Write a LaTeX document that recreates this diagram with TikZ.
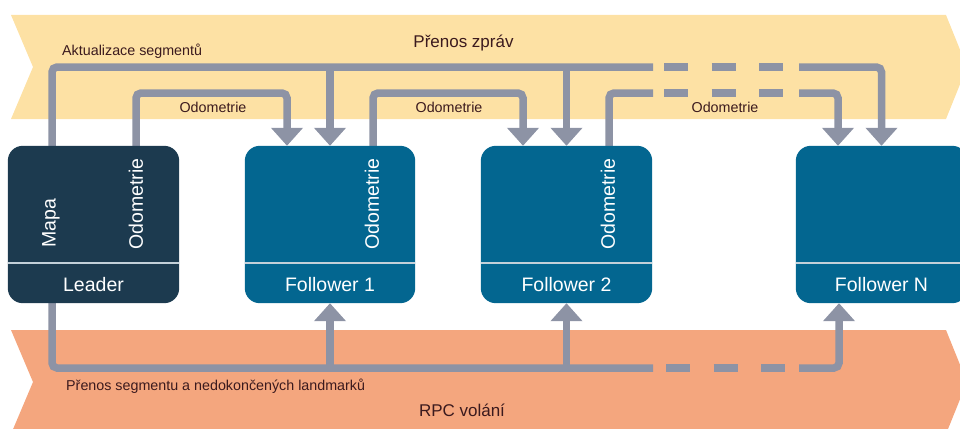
\documentclass[tikz,border=0pt]{standalone}
\usepackage{fontspec}
\setmainfont{Liberation Sans}
\usetikzlibrary{arrows.meta,calc}
\definecolor{bandY}{HTML}{FDE1A4}
\definecolor{bandO}{HTML}{F4A67E}
\definecolor{connc}{HTML}{8D93A5}
\definecolor{leadc}{HTML}{1C3A4F}
\definecolor{follc}{HTML}{036690}
\definecolor{divc}{HTML}{C3D0D9}
\definecolor{txtc}{HTML}{3B1A1E}
\begin{document}
\begin{tikzpicture}[x=1pt,y=-1pt,
 wire/.style={draw=connc,line width=7.5pt,rounded corners=5pt},
 arr/.style={wire,-{Triangle[width=31pt,length=18pt]}},
 dsh/.style={draw=connc,line width=7.5pt,dash pattern=on 24pt off 23.5pt},
 box/.style={rounded corners=15pt,minimum width=171pt,minimum height=157pt,inner sep=0pt},
 boxlab/.style={text=white,font=\fontsize{19.5}{20}\selectfont,inner sep=0pt},
 vlab/.style={boxlab,rotate=90,anchor=west},
 lab/.style={text=txtc,font=\fontsize{14.3}{15}\selectfont,inner sep=0pt},
 bigl/.style={text=txtc,font=\fontsize{17}{18}\selectfont,inner sep=0pt}]
\useasboundingbox (0,0) rectangle (960,428);
\clip (0,0) rectangle (960,428);
% bands
\fill[bandY] (11,15) -- (946,15) -- (967,67) -- (946,119) -- (11,119) -- (33,67) -- cycle;
\fill[bandO] (11,330) -- (946,330) -- (967,382) -- (946,434) -- (11,434) -- (33,382) -- cycle;
% boxes (positions)
\path (93.5,224.5) node[box] (L) {};
\path (330,224.5) node[box,minimum width=170pt] (F1) {};
\path (566.5,224.5) node[box] (F2) {};
\path (881.5,224.5) node[box] (FN) {};
% coordinates
\coordinate (Ytop) at (0,67);
\coordinate (Yodo) at (0,93);
\coordinate (Ybot) at (0,368);
\coordinate (DA) at (653,0);
\coordinate (DB) at (799,0);
\coordinate (Lsa) at ($(L.north)+(-41.5,0)$);
\coordinate (Lod) at ($(L.north)+(42.5,0)$);
\coordinate (F1in) at ($(F1.north)+(-43,0)$);
\coordinate (F1od) at ($(F1.north)+(43,0)$);
\coordinate (F2in) at ($(F2.north)+(-43.5,0)$);
\coordinate (F2od) at ($(F2.north)+(42.5,0)$);
\coordinate (FNin) at ($(FN.north)+(-43.5,0)$);
\coordinate (Lsb) at ($(L.south)+(-41.5,0)$);
\coordinate (FNup) at ($(FN.south)+(-42.5,0)$);
% top connectors
\draw[wire] (Lsa) |- (Ytop -| DA);
\draw[dsh,dash phase=36.5pt] (Ytop -| DA) -- (Ytop -| DB);
\draw[arr] (Ytop -| DB) -| (FN.north);
\draw[arr] (Ytop -| F1.north) -- (F1.north);
\draw[arr] (Ytop -| F2.north) -- (F2.north);
% odometrie connectors
\draw[arr] (Lod) |- (Yodo -| F1in) -- (F1in);
\draw[arr] (F1od) |- (Yodo -| F2in) -- (F2in);
\draw[wire] (F2od) |- (Yodo -| DA);
\draw[dsh,dash phase=36.5pt] (Yodo -| DA) -- (Yodo -| DB);
\draw[arr] (Yodo -| DB) -| (FNin);
% bottom connectors
\draw[wire] (Lsb) |- (Ybot -| DA);
\draw[dsh,dash phase=34.5pt] (Ybot -| DA) -- (Ybot -| DB);
\draw[arr] (Ybot -| DB) -| (FNup);
\draw[arr] (Ybot -| F1.south) -- (F1.south);
\draw[arr] (Ybot -| F2.south) -- (F2.south);
% box fills
\fill[leadc,rounded corners=15pt] (L.south west) rectangle (L.north east);
\fill[follc,rounded corners=15pt] (F1.south west) rectangle (F1.north east);
\fill[follc,rounded corners=15pt] (F2.south west) rectangle (F2.north east);
\fill[follc,rounded corners=15pt] (FN.south west) rectangle (FN.north east);
% dividers
\draw[divc,line width=2pt] ($(L.south west)+(0,-40)$) -- ($(L.south east)+(0,-40)$);
\draw[divc,line width=2pt] ($(F1.south west)+(0,-40)$) -- ($(F1.south east)+(0,-40)$);
\draw[divc,line width=2pt] ($(F2.south west)+(0,-40)$) -- ($(F2.south east)+(0,-40)$);
\draw[divc,line width=2pt] ($(FN.south west)+(0,-40)$) -- ($(FN.south east)+(0,-40)$);
% box labels
\node[boxlab,anchor=base] (tL) at ($(L.south)+(0,-11.5)$) {Leader};
\node[boxlab,anchor=base] (tF1) at ($(F1.south)+(0,-11.5)$) {Follower 1};
\node[boxlab,anchor=base] (tF2) at ($(F2.south)+(0,-11.5)$) {Follower 2};
\node[boxlab,anchor=base] (tFN) at ($(FN.south)+(0,-11.5)$) {Follower N};
\node[vlab] (vLm) at ($(L.north)+(-42.5,102)$) {Mapa};
\node[vlab] (vLo) at ($(L.north)+(42.5,104)$) {Odometrie};
\node[vlab] (vF1) at ($(F1.north)+(42,104)$) {Odometrie};
\node[vlab] (vF2) at ($(F2.north)+(41.5,104)$) {Odometrie};
% band labels
\node[lab,anchor=west] (la) at (62,51) {Aktualizace segmentů};
\node[bigl] (lz) at (463.5,43) {Přenos zpráv};
\node[lab] (o1) at (213,107.5) {Odometrie};
\node[lab] (o2) at (449,107.5) {Odometrie};
\node[lab] (o3) at (725,107.5) {Odometrie};
\node[lab,anchor=west] (lb) at (66,386) {Přenos segmentu a nedokončených landmarků};
\node[bigl] (lr) at (462,410) {RPC volání};
\end{tikzpicture}
\end{document}
